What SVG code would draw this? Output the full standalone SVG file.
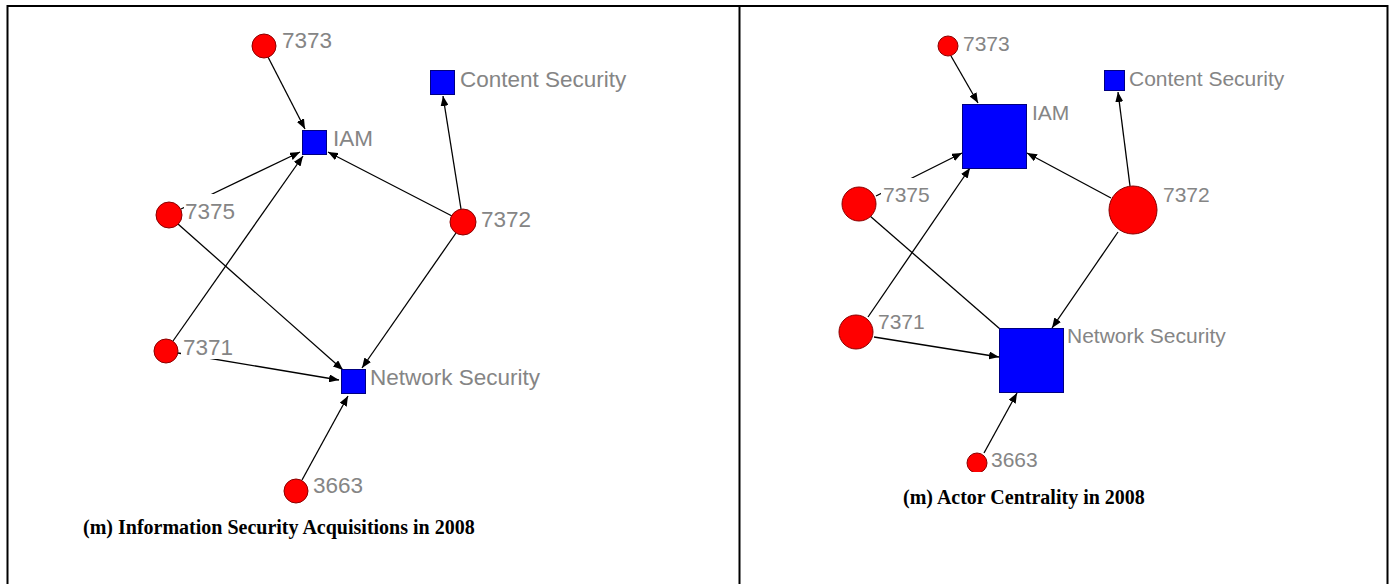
<svg xmlns="http://www.w3.org/2000/svg" width="1393" height="584" viewBox="0 0 1393 584">
  <style>
    .frame { fill: none; stroke: #000; stroke-width: 2; }
    .edge { fill: none; stroke: #000; stroke-width: 1.3; }
    .arr { marker-end: url(#head); }
    .actor { fill: #ff0000; stroke: #8a0000; stroke-width: 1; }
    .field { fill: #0000ff; stroke: #000080; stroke-width: 1; }
    .lbl { font-family: "Liberation Sans", Arial, sans-serif; fill: #858585; }
    .lbl-l { font-size: 22.5px; }
    .lbl-r { font-size: 21px; }
    .bg { fill: #fff; stroke: none; }
    .cap { font-family: "Liberation Serif", "Times New Roman", serif; font-weight: bold; font-size: 20px; fill: #000; }
  </style>
  <defs>
    <marker id="head" viewBox="0 0 10 8" refX="10" refY="4" markerWidth="10" markerHeight="8" markerUnits="userSpaceOnUse" orient="auto">
      <path d="M0,0 L10,4 L0,8 Z" fill="#000"/>
    </marker>
    <clipPath id="rightClip">
      <rect x="741" y="8" width="645" height="464"/>
    </clipPath>
  </defs>

  <rect width="1393" height="584" fill="#fff"/>

  <!-- table frame -->
  <g id="frame">
    <path class="frame" d="M7.5,590 V6 H1387.5 V590 M739.5,6 V590"/>
  </g>

  <!-- ===== Left panel: acquisitions network ===== -->
  <g id="left-connectors">
    <line class="edge arr" x1="268" y1="57" x2="305" y2="129"/>
    <line class="edge arr" x1="181" y1="209" x2="300" y2="152"/>
    <line class="edge arr" x1="173" y1="341" x2="303" y2="156"/>
    <line class="edge arr" x1="452" y1="216" x2="328" y2="152"/>
    <line class="edge arr" x1="461" y1="209" x2="443" y2="96"/>
    <line class="edge arr" x1="178" y1="224" x2="343" y2="370"/>
    <line class="edge arr" x1="456" y1="233" x2="362" y2="368"/>
    <line class="edge arr" x1="178" y1="353" x2="339" y2="380"/>
    <line class="edge arr" x1="302" y1="480" x2="348" y2="396"/>
  </g>

  <g id="L-7373">
    <circle class="actor" cx="264" cy="46" r="12"/>
    <text class="lbl lbl-l" x="282" y="48">7373</text>
  </g>
  <g id="L-content-security">
    <rect class="field" x="430.5" y="70.5" width="24" height="24"/>
    <text class="lbl lbl-l" x="460" y="87">Content Security</text>
  </g>
  <g id="L-iam">
    <rect class="field" x="302.5" y="130.5" width="24" height="24"/>
    <text class="lbl lbl-l" x="333" y="146">IAM</text>
  </g>
  <g id="L-7375">
    <circle class="actor" cx="169" cy="215" r="13"/>
    <rect class="bg" x="184" y="194" width="48" height="29"/>
    <text class="lbl lbl-l" x="185" y="219">7375</text>
  </g>
  <g id="L-7372">
    <circle class="actor" cx="463" cy="222" r="13"/>
    <text class="lbl lbl-l" x="481" y="227">7372</text>
  </g>
  <g id="L-7371">
    <circle class="actor" cx="166" cy="351" r="12"/>
    <rect class="bg" x="181" y="331" width="54" height="28"/>
    <text class="lbl lbl-l" x="183" y="355">7371</text>
  </g>
  <g id="L-network-security">
    <rect class="field" x="341.5" y="369.5" width="24" height="24"/>
    <text class="lbl lbl-l" x="370" y="385">Network Security</text>
  </g>
  <g id="L-3663">
    <circle class="actor" cx="296" cy="491" r="12"/>
    <text class="lbl lbl-l" x="313" y="493">3663</text>
  </g>

  <text id="caption-left" class="cap" x="83" y="534">(m) Information Security Acquisitions in 2008</text>

  <!-- ===== Right panel: actor centrality ===== -->
  <g clip-path="url(#rightClip)">
    <g id="right-connectors">
      <line class="edge arr" x1="951" y1="56" x2="978" y2="103"/>
      <line class="edge arr" x1="876" y1="196" x2="962" y2="153"/>
      <line class="edge arr" x1="868" y1="317" x2="970" y2="168"/>
      <line class="edge arr" x1="1111" y1="198" x2="1027" y2="153"/>
      <line class="edge arr" x1="1130" y1="186" x2="1118" y2="92"/>
      <line class="edge" x1="870" y1="216" x2="1000" y2="329"/>
      <line class="edge arr" x1="1118" y1="232" x2="1052" y2="328"/>
      <line class="edge arr" x1="874" y1="337" x2="999" y2="357"/>
      <line class="edge arr" x1="984" y1="453" x2="1017" y2="393"/>
    </g>

    <g id="R-7373">
      <circle class="actor" cx="948" cy="46" r="10"/>
      <text class="lbl lbl-r" x="963" y="51">7373</text>
    </g>
    <g id="R-content-security">
      <rect class="field" x="1104.5" y="70.5" width="20" height="20"/>
      <text class="lbl lbl-r" x="1129" y="86">Content Security</text>
    </g>
    <g id="R-iam">
      <rect class="field" x="962.5" y="104.5" width="64" height="64"/>
      <text class="lbl lbl-r" x="1032" y="120">IAM</text>
    </g>
    <g id="R-7375">
      <circle class="actor" cx="859" cy="204" r="17"/>
      <rect class="bg" x="881" y="178" width="50" height="28"/>
      <text class="lbl lbl-r" x="883" y="202">7375</text>
    </g>
    <g id="R-7372">
      <circle class="actor" cx="1133" cy="210" r="24"/>
      <text class="lbl lbl-r" x="1163" y="202">7372</text>
    </g>
    <g id="R-7371">
      <circle class="actor" cx="856" cy="332" r="17"/>
      <text class="lbl lbl-r" x="878" y="329">7371</text>
    </g>
    <g id="R-network-security">
      <rect class="field" x="999.5" y="328.5" width="64" height="64"/>
      <text class="lbl lbl-r" x="1067" y="343">Network Security</text>
    </g>
    <g id="R-3663">
      <circle class="actor" cx="977" cy="463" r="10"/>
      <text class="lbl lbl-r" x="991" y="467">3663</text>
    </g>
  </g>

  <text id="caption-right" class="cap" x="903" y="504">(m) Actor Centrality in 2008</text>
</svg>
